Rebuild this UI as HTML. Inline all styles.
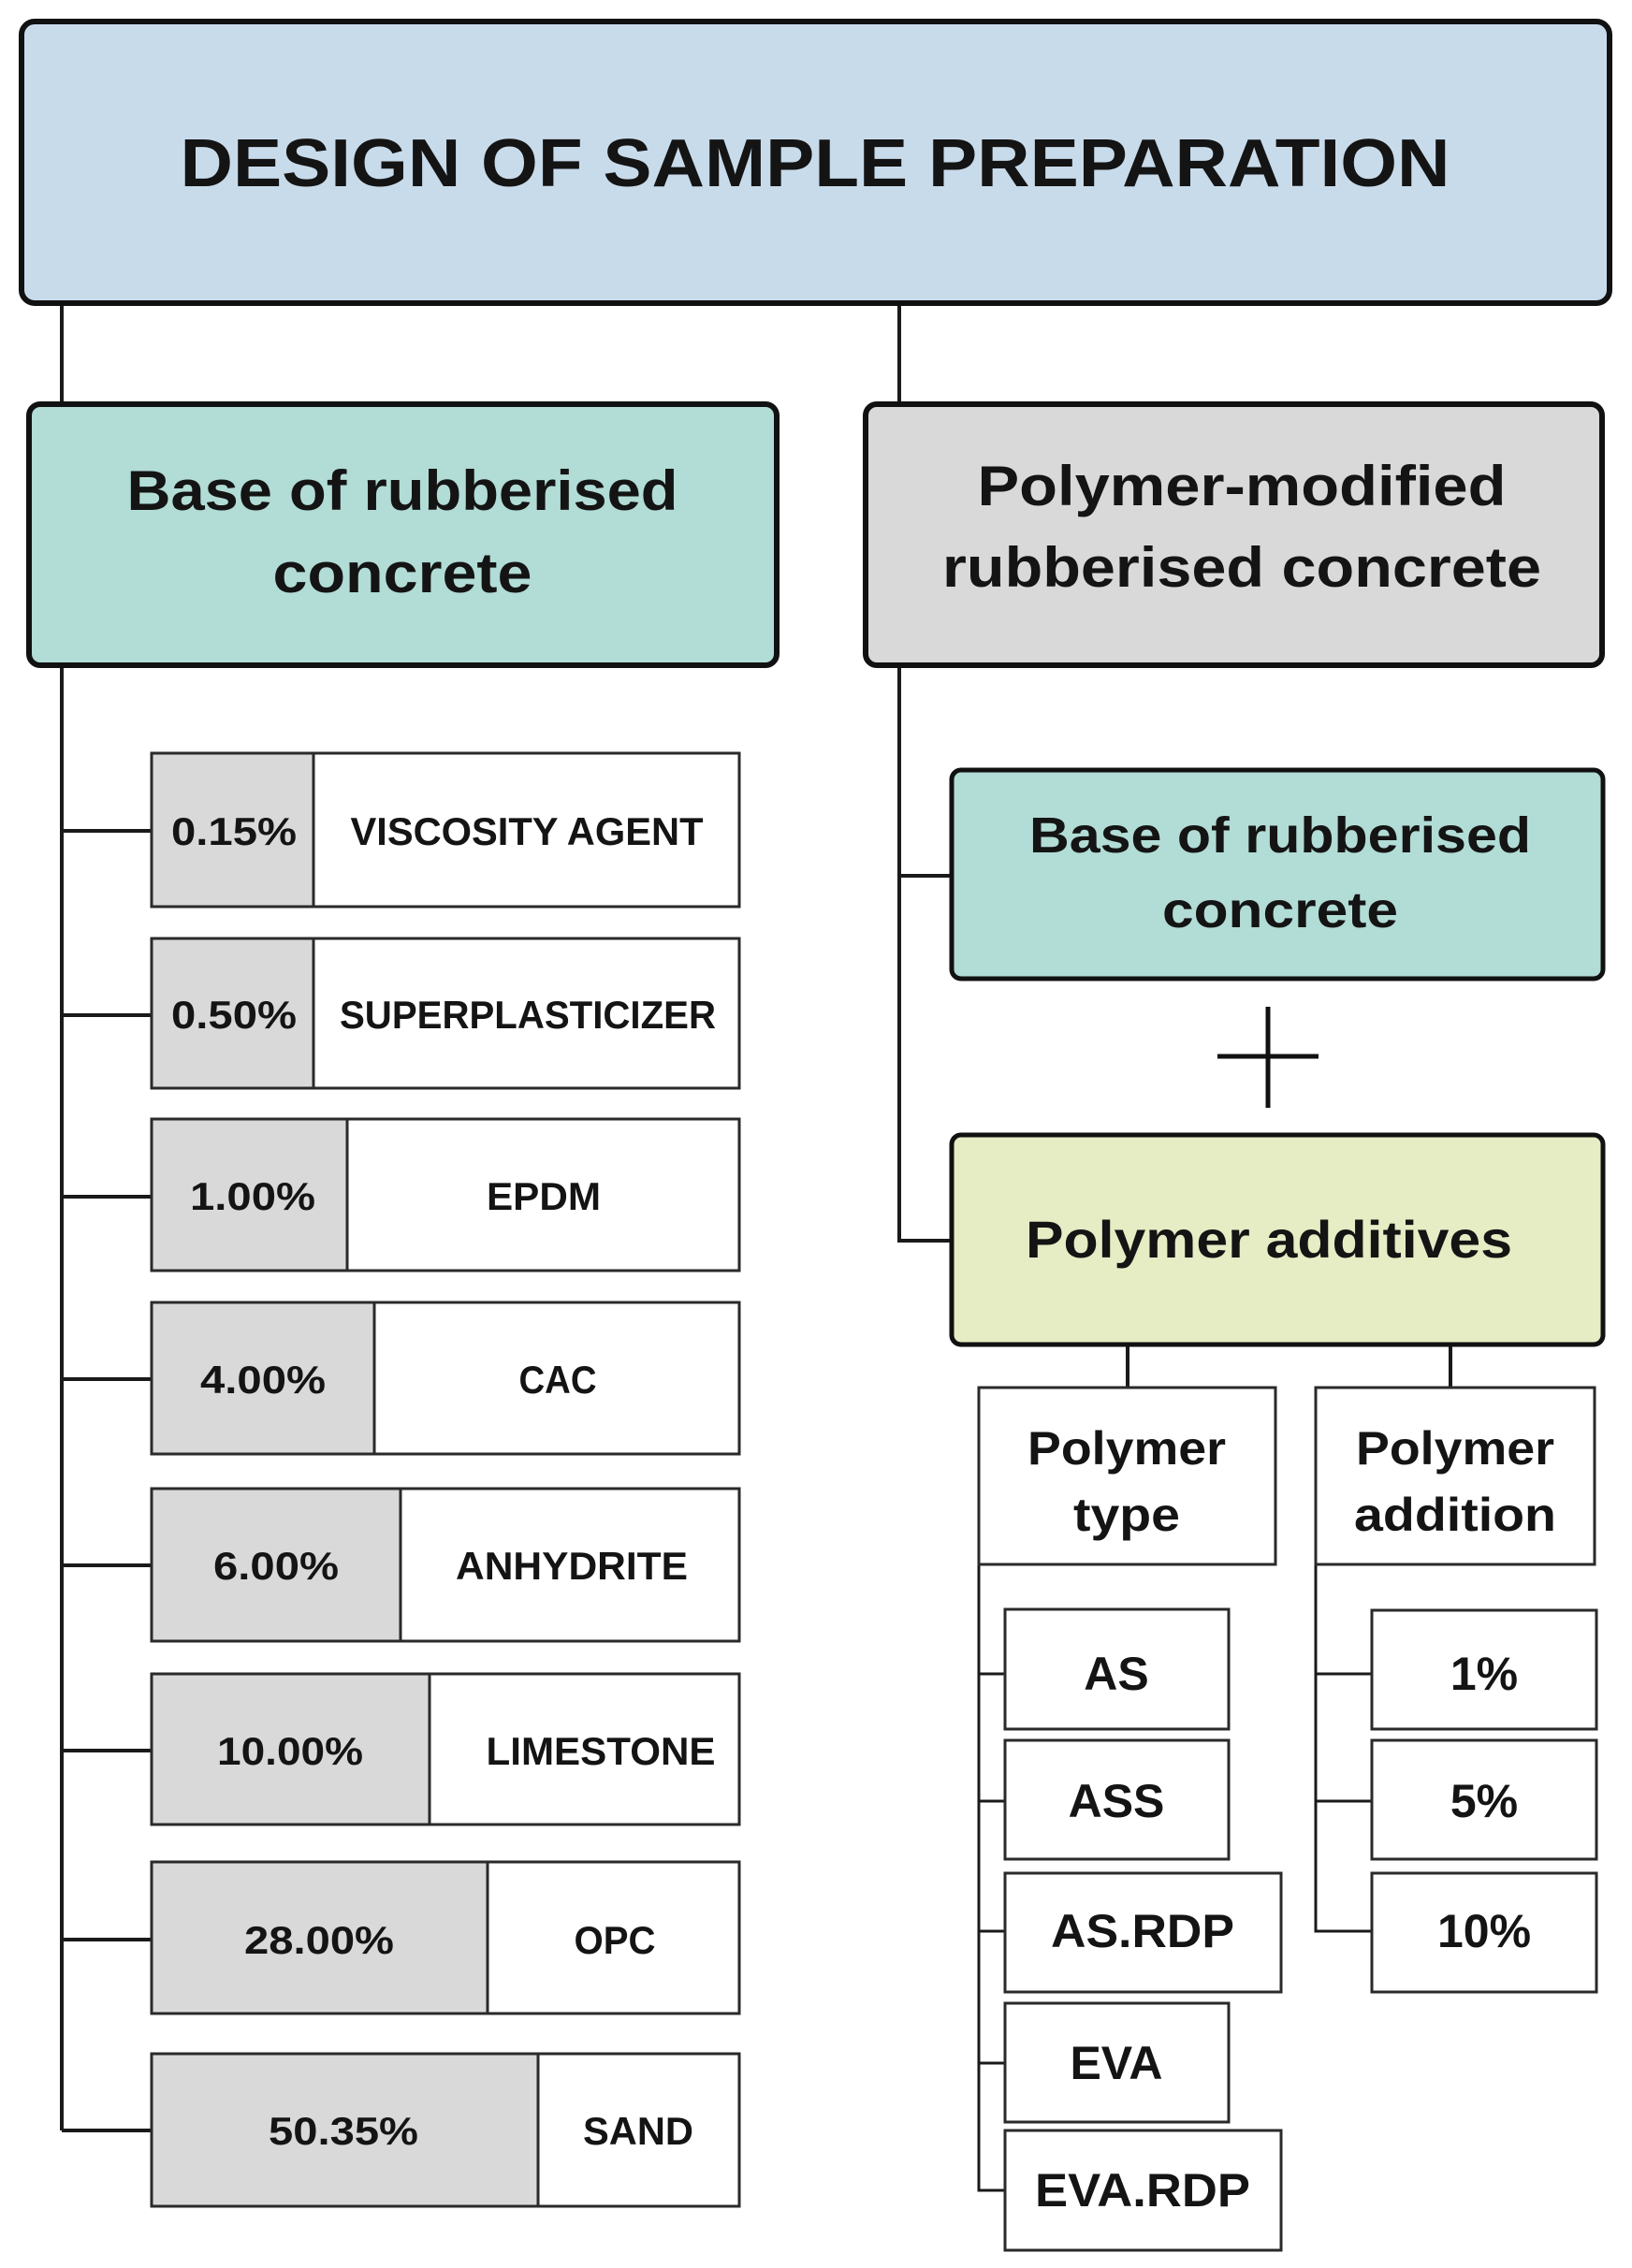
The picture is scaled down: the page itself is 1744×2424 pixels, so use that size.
<!DOCTYPE html>
<html><head><meta charset="utf-8"><style>
html,body{margin:0;padding:0;background:#fff;}
svg{display:block;}
text{font-family:"Liberation Sans",sans-serif;font-weight:bold;fill:#141414;}
</style></head><body>
<svg width="1744" height="2424" viewBox="0 0 1744 2424" xmlns="http://www.w3.org/2000/svg">
<!-- connectors -->
<g stroke="#1a1a1a" stroke-width="4" fill="none">
<line x1="66" y1="324" x2="66" y2="432"/>
<line x1="66" y1="711" x2="66" y2="2277"/>
<line x1="961" y1="324" x2="961" y2="432"/>
<polyline points="961,711 961,1326 1017,1326"/>
<line x1="961" y1="936" x2="1017" y2="936"/>
<line x1="66" y1="888" x2="162" y2="888"/>
<line x1="66" y1="1085" x2="162" y2="1085"/>
<line x1="66" y1="1279" x2="162" y2="1279"/>
<line x1="66" y1="1474" x2="162" y2="1474"/>
<line x1="66" y1="1673" x2="162" y2="1673"/>
<line x1="66" y1="1871" x2="162" y2="1871"/>
<line x1="66" y1="2073" x2="162" y2="2073"/>
<line x1="66" y1="2277" x2="162" y2="2277"/>
<line x1="1205" y1="1437" x2="1205" y2="1483"/>
<line x1="1550" y1="1437" x2="1550" y2="1483"/>
</g>
<g stroke="#1a1a1a" stroke-width="3" fill="none">
<polyline points="1046,1672 1046,2341 1074,2341"/>
<line x1="1046" y1="1789" x2="1074" y2="1789"/>
<line x1="1046" y1="1925" x2="1074" y2="1925"/>
<line x1="1046" y1="2064" x2="1074" y2="2064"/>
<line x1="1046" y1="2205" x2="1074" y2="2205"/>
<polyline points="1406,1672 1406,2064 1466,2064"/>
<line x1="1406" y1="1789" x2="1466" y2="1789"/>
<line x1="1406" y1="1925" x2="1466" y2="1925"/>
</g>
<!-- big boxes -->
<rect x="23" y="23" width="1697" height="301" rx="14" fill="#c8dbeb" stroke="#111" stroke-width="6"/>
<text x="871" y="199" font-size="72" text-anchor="middle" textLength="1357" lengthAdjust="spacingAndGlyphs">DESIGN OF SAMPLE PREPARATION</text>
<rect x="31" y="432" width="799" height="279" rx="12" fill="#b2dcd6" stroke="#111" stroke-width="6"/>
<text x="430" y="545" font-size="60" text-anchor="middle" textLength="589" lengthAdjust="spacingAndGlyphs">Base of rubberised</text>
<text x="430" y="633" font-size="60" text-anchor="middle" textLength="277" lengthAdjust="spacingAndGlyphs">concrete</text>
<rect x="925" y="432" width="787" height="279" rx="12" fill="#d9d9d9" stroke="#111" stroke-width="6"/>
<text x="1327" y="540" font-size="60" text-anchor="middle" textLength="565" lengthAdjust="spacingAndGlyphs">Polymer-modified</text>
<text x="1327" y="627" font-size="60" text-anchor="middle" textLength="640" lengthAdjust="spacingAndGlyphs">rubberised concrete</text>
<rect x="1017" y="823" width="696" height="223" rx="10" fill="#b2dcd6" stroke="#111" stroke-width="5"/>
<text x="1368" y="911" font-size="54" text-anchor="middle" textLength="536" lengthAdjust="spacingAndGlyphs">Base of rubberised</text>
<text x="1368" y="991" font-size="54" text-anchor="middle" textLength="252" lengthAdjust="spacingAndGlyphs">concrete</text>
<g stroke="#111" stroke-width="5"><line x1="1301" y1="1129" x2="1409" y2="1129"/><line x1="1355" y1="1076" x2="1355" y2="1184"/></g>
<rect x="1017" y="1213" width="696" height="224" rx="10" fill="#e6ecc4" stroke="#111" stroke-width="5"/>
<text x="1356" y="1344" font-size="56" text-anchor="middle" textLength="520" lengthAdjust="spacingAndGlyphs">Polymer additives</text>
<!-- left items -->
<g stroke="#2a2a2a" stroke-width="3">
<rect x="162" y="805" width="628" height="164" fill="#fff"/><rect x="162" y="805" width="173" height="164" fill="#d9d9d9"/>
<rect x="162" y="1003" width="628" height="160" fill="#fff"/><rect x="162" y="1003" width="173" height="160" fill="#d9d9d9"/>
<rect x="162" y="1196" width="628" height="162" fill="#fff"/><rect x="162" y="1196" width="209" height="162" fill="#d9d9d9"/>
<rect x="162" y="1392" width="628" height="162" fill="#fff"/><rect x="162" y="1392" width="238" height="162" fill="#d9d9d9"/>
<rect x="162" y="1591" width="628" height="163" fill="#fff"/><rect x="162" y="1591" width="266" height="163" fill="#d9d9d9"/>
<rect x="162" y="1789" width="628" height="161" fill="#fff"/><rect x="162" y="1789" width="297" height="161" fill="#d9d9d9"/>
<rect x="162" y="1990" width="628" height="162" fill="#fff"/><rect x="162" y="1990" width="359" height="162" fill="#d9d9d9"/>
<rect x="162" y="2195" width="628" height="163" fill="#fff"/><rect x="162" y="2195" width="413" height="163" fill="#d9d9d9"/>
</g>
<g font-size="42" text-anchor="middle">
<text x="250" y="903" textLength="134" lengthAdjust="spacingAndGlyphs">0.15%</text>
<text x="563" y="903" textLength="377" lengthAdjust="spacingAndGlyphs">VISCOSITY AGENT</text>
<text x="250" y="1099" textLength="134" lengthAdjust="spacingAndGlyphs">0.50%</text>
<text x="564" y="1099" textLength="402" lengthAdjust="spacingAndGlyphs">SUPERPLASTICIZER</text>
<text x="270" y="1293" textLength="134" lengthAdjust="spacingAndGlyphs">1.00%</text>
<text x="581" y="1293" textLength="122" lengthAdjust="spacingAndGlyphs">EPDM</text>
<text x="281" y="1489" textLength="134" lengthAdjust="spacingAndGlyphs">4.00%</text>
<text x="596" y="1489" textLength="83" lengthAdjust="spacingAndGlyphs">CAC</text>
<text x="295" y="1688" textLength="134" lengthAdjust="spacingAndGlyphs">6.00%</text>
<text x="611" y="1688" textLength="248" lengthAdjust="spacingAndGlyphs">ANHYDRITE</text>
<text x="310" y="1886" textLength="156" lengthAdjust="spacingAndGlyphs">10.00%</text>
<text x="642" y="1886" textLength="245" lengthAdjust="spacingAndGlyphs">LIMESTONE</text>
<text x="341" y="2088" textLength="160" lengthAdjust="spacingAndGlyphs">28.00%</text>
<text x="657" y="2088" textLength="87" lengthAdjust="spacingAndGlyphs">OPC</text>
<text x="367" y="2292" textLength="160" lengthAdjust="spacingAndGlyphs">50.35%</text>
<text x="682" y="2292" textLength="118" lengthAdjust="spacingAndGlyphs">SAND</text>
</g>
<!-- right sub boxes -->
<g stroke="#2a2a2a" stroke-width="3" fill="#fff">
<rect x="1046" y="1483" width="317" height="189"/>
<rect x="1406" y="1483" width="298" height="189"/>
<rect x="1074" y="1720" width="239" height="128"/>
<rect x="1074" y="1860" width="239" height="127"/>
<rect x="1074" y="2002" width="295" height="127"/>
<rect x="1074" y="2141" width="239" height="127"/>
<rect x="1074" y="2277" width="295" height="128"/>
<rect x="1466" y="1721" width="240" height="127"/>
<rect x="1466" y="1860" width="240" height="127"/>
<rect x="1466" y="2002" width="240" height="127"/>
</g>
<g font-size="50" text-anchor="middle">
<text x="1204" y="1565" textLength="212" lengthAdjust="spacingAndGlyphs">Polymer</text>
<text x="1204" y="1636" textLength="114" lengthAdjust="spacingAndGlyphs">type</text>
<text x="1555" y="1565" textLength="212" lengthAdjust="spacingAndGlyphs">Polymer</text>
<text x="1555" y="1636" textLength="216" lengthAdjust="spacingAndGlyphs">addition</text>
<text x="1193" y="1806">AS</text>
<text x="1193" y="1942">ASS</text>
<text x="1221" y="2081" textLength="196" lengthAdjust="spacingAndGlyphs">AS.RDP</text>
<text x="1193" y="2222">EVA</text>
<text x="1221" y="2358" textLength="230" lengthAdjust="spacingAndGlyphs">EVA.RDP</text>
<text x="1586" y="1806">1%</text>
<text x="1586" y="1942">5%</text>
<text x="1586" y="2081">10%</text>
</g>
</svg>
</body></html>
